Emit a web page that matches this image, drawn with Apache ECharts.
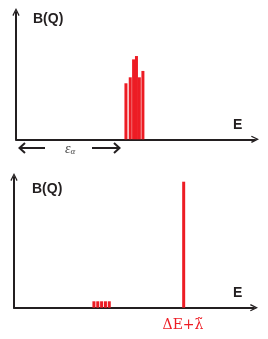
<!DOCTYPE html>
<html><head><meta charset="utf-8">
<script src="https://cdn.jsdelivr.net/npm/echarts@6/dist/echarts.min.js"></script>
<style>html,body{margin:0;padding:0;background:#fff}#c{width:268px;height:339px}</style>
</head><body><div id="c"></div>
<script>
// Top panel: broad spread of bound-state energies
const topE = [46.0, 47.8, 49.2, 50.4, 51.6, 53.1];
const topB = [44, 48.7, 62.8, 65.4, 48.7, 53.7];
// Bottom panel: small residual group + single dominant peak
const botSmallE = [33.3, 34.9, 36.5, 38.1, 39.7];
const botSmallB = [4.9, 4.9, 4.9, 4.9, 4.9];
const botPeakE = [70.7];
const botPeakB = [96.4];
const yLabel = 'B(Q)';
const xLabel = 'E';
const epsLabel = '{e|ε}{s|α}';
const peakLabel = 'ΔE+λ̃';

const RED = '#ed1c24', INK = '#231f20';
const chev = 'path://M0,10 L5,0 L10,10 L8.4,11 L5,3.6 L1.6,11 Z';
function pairs(xs, ys){ return xs.map((x,i)=>[x, ys[i]]); }
function axisLine(){ return {show:true, onZero:false, symbol:['none', chev], symbolSize:[9,8], lineStyle:{color:INK, width:2}}; }
function xAx(gi){ return {type:'value', gridIndex:gi, min:0, max:100, axisLine:axisLine(), axisTick:{show:false}, axisLabel:{show:false}, splitLine:{show:false}}; }
function yAx(gi){ return {type:'value', gridIndex:gi, min:0, max:100, axisLine:axisLine(), axisTick:{show:false}, axisLabel:{show:false}, splitLine:{show:false}}; }

const chart = echarts.init(document.getElementById('c'), null, {renderer:'canvas'});
chart.setOption({
  animation:false,
  grid:[
    {left:16, right:13, top:12, bottom:199.7},
    {left:14, right:14, top:177, bottom:31.3}
  ],
  xAxis:[xAx(0), xAx(1)],
  yAxis:[yAx(0), yAx(1)],
  series:[
    {type:'bar', xAxisIndex:0, yAxisIndex:0, barWidth:3, itemStyle:{color:RED}, data:pairs(topE, topB)},
    {type:'bar', xAxisIndex:1, yAxisIndex:1, barWidth:3, itemStyle:{color:RED}, data:pairs(botSmallE, botSmallB)},
    {type:'bar', xAxisIndex:1, yAxisIndex:1, barWidth:3, barGap:'-100%', itemStyle:{color:RED}, data:pairs(botPeakE, botPeakB)}
  ],
  graphic:[
    {type:'text', x:33, y:19, style:{text:yLabel, fill:INK, font:'bold 14px "Liberation Sans", Arial, sans-serif', verticalAlign:'middle'}},
    {type:'text', x:32, y:189, style:{text:yLabel, fill:INK, font:'bold 14px "Liberation Sans", Arial, sans-serif', verticalAlign:'middle'}},
    {type:'text', x:233, y:125.5, style:{text:xLabel, fill:INK, font:'bold 14px "Liberation Sans", Arial, sans-serif', verticalAlign:'middle'}},
    {type:'text', x:233, y:293, style:{text:xLabel, fill:INK, font:'bold 14px "Liberation Sans", Arial, sans-serif', verticalAlign:'middle'}},
    {type:'text', x:70, y:149, style:{text:epsLabel, align:'center', verticalAlign:'middle', rich:{
      e:{fill:'#444', font:'italic 14px "Liberation Serif", serif'},
      s:{fill:'#444', font:'italic 9px "Liberation Serif", serif', padding:[6,0,0,0]}}}},
    {type:'polyline', shape:{points:[[19,148],[45,148]]}, style:{stroke:INK, lineWidth:2, fill:null}},
    {type:'polyline', shape:{points:[[25,143],[19.5,148],[25,153]]}, style:{stroke:INK, lineWidth:2, fill:null}},
    {type:'polyline', shape:{points:[[92,148],[119,148]]}, style:{stroke:INK, lineWidth:2, fill:null}},
    {type:'polyline', shape:{points:[[114,143],[119.5,148],[114,153]]}, style:{stroke:INK, lineWidth:2, fill:null}},
    {type:'text', x:183, y:325, style:{text:peakLabel, fill:RED, font:'14px "DejaVu Serif", serif', align:'center', verticalAlign:'middle'}}
  ]
});
</script></body></html>
